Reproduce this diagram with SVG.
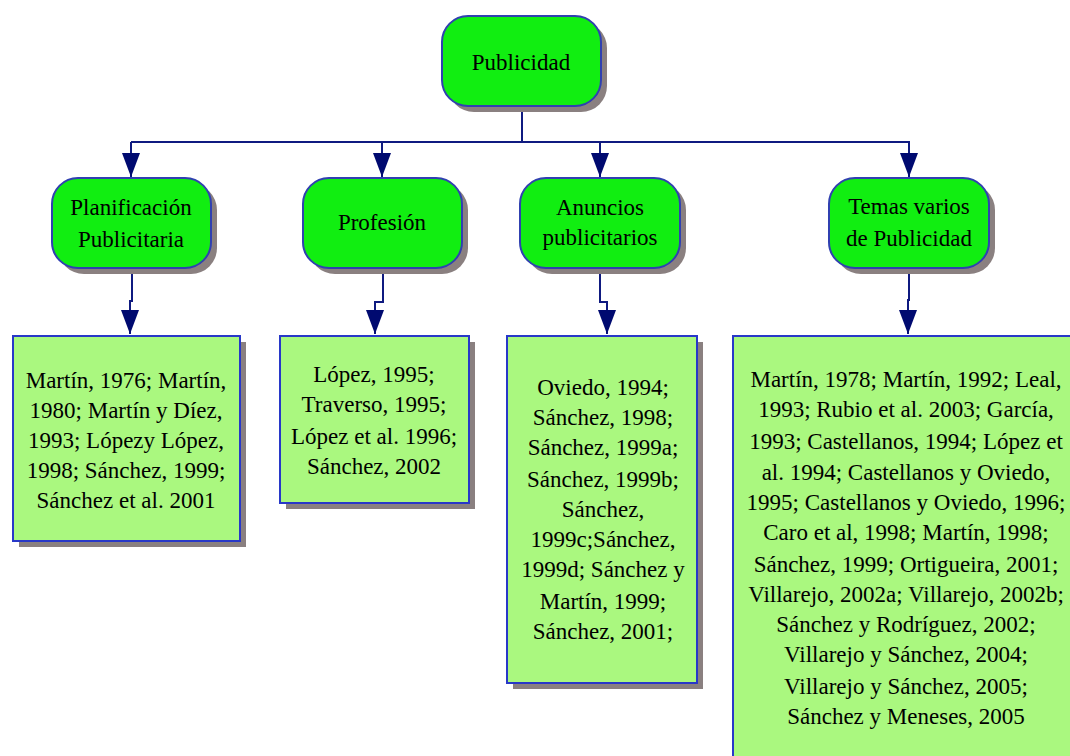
<svg xmlns="http://www.w3.org/2000/svg" width="1070" height="756" viewBox="0 0 1070 756">
<defs>
<style>
.sh{fill:#8a8080}
.n2{fill:#11ee11;stroke:#3040b0;stroke-width:2}
.n3{fill:#aaf87f;stroke:#2838c8;stroke-width:2}
.t{font-size:23px;fill:#000;text-anchor:middle}
.c{fill:none;stroke:#0f1a80;stroke-width:2}
</style>
<marker id="ah" markerUnits="userSpaceOnUse" markerWidth="26" markerHeight="20" refX="25" refY="10" orient="auto" viewBox="0 0 26 20">
<path d="M1,1 L25,10 L1,19 Z" fill="#000a70"/>
</marker>
</defs>
<rect width="1070" height="756" fill="#fff"/>
<g id="connectors">
<path class="c" d="M522,106 V142"/>
<path class="c" d="M131,142 H910"/>
<path class="c" d="M131,142 V177" marker-end="url(#ah)"/>
<path class="c" d="M382,142 V177" marker-end="url(#ah)"/>
<path class="c" d="M600,142 V177" marker-end="url(#ah)"/>
<path class="c" d="M909,142 V177" marker-end="url(#ah)"/>
<path class="c" d="M132,268 V301 H130 V334" marker-end="url(#ah)"/>
<path class="c" d="M383,268 V302 H375 V334" marker-end="url(#ah)"/>
<path class="c" d="M600,268 V302 H607 V334" marker-end="url(#ah)"/>
<path class="c" d="M909,268 V300 H908 V334" marker-end="url(#ah)"/>
</g>
<g font-family="'Liberation Serif', 'Times New Roman', 'DejaVu Serif', serif">
<g id="publicidad">
<rect class="sh" x="448" y="22" width="159" height="90" rx="26"/>
<rect class="n2" x="442" y="16" width="159" height="90" rx="26"/>
<text class="t" x="521" y="70">Publicidad</text>
</g>
<g id="planificacion">
<rect class="sh" x="58" y="184" width="159" height="90" rx="26"/>
<rect class="n2" x="52" y="178" width="159" height="90" rx="26"/>
<text class="t" x="131" y="215">Planificación</text>
<text class="t" x="131" y="247">Publicitaria</text>
</g>
<g id="profesion">
<rect class="sh" x="309" y="184" width="159" height="90" rx="26"/>
<rect class="n2" x="303" y="178" width="159" height="90" rx="26"/>
<text class="t" x="382" y="230">Profesión</text>
</g>
<g id="anuncios">
<rect class="sh" x="526" y="184" width="160" height="90" rx="26"/>
<rect class="n2" x="520" y="178" width="160" height="90" rx="26"/>
<text class="t" x="600" y="215">Anuncios</text>
<text class="t" x="600" y="245">publicitarios</text>
</g>
<g id="temas">
<rect class="sh" x="835" y="184" width="160" height="90" rx="26"/>
<rect class="n2" x="829" y="178" width="160" height="90" rx="26"/>
<text class="t" x="909" y="214">Temas varios</text>
<text class="t" x="909" y="246">de Publicidad</text>
</g>
<g id="refs-planificacion">
<rect class="sh" x="19" y="342" width="227" height="205"/>
<rect class="n3" x="13" y="336" width="227" height="205"/>
<text class="t" x="126" y="388">Martín, 1976; Martín,</text>
<text class="t" x="126" y="418">1980; Martín y Díez,</text>
<text class="t" x="126" y="448">1993; Lópezy López,</text>
<text class="t" x="126" y="478">1998; Sánchez, 1999;</text>
<text class="t" x="126" y="508">Sánchez et al. 2001</text>
</g>
<g id="refs-profesion">
<rect class="sh" x="286" y="342" width="189" height="167"/>
<rect class="n3" x="280" y="336" width="189" height="167"/>
<text class="t" x="374" y="382">López, 1995;</text>
<text class="t" x="374" y="412">Traverso, 1995;</text>
<text class="t" x="374" y="444">López et al. 1996;</text>
<text class="t" x="374" y="474">Sánchez, 2002</text>
</g>
<g id="refs-anuncios">
<rect class="sh" x="513" y="342" width="190" height="347"/>
<rect class="n3" x="507" y="336" width="190" height="347"/>
<text class="t" x="603" y="395">Oviedo, 1994;</text>
<text class="t" x="603" y="425">Sánchez, 1998;</text>
<text class="t" x="603" y="455">Sánchez, 1999a;</text>
<text class="t" x="603" y="487">Sánchez, 1999b;</text>
<text class="t" x="603" y="517">Sánchez,</text>
<text class="t" x="603" y="547">1999c;Sánchez,</text>
<text class="t" x="603" y="577">1999d; Sánchez y</text>
<text class="t" x="603" y="609">Martín, 1999;</text>
<text class="t" x="603" y="639">Sánchez, 2001;</text>
</g>
<g id="refs-temas">
<rect class="sh" x="739" y="342" width="340" height="430"/>
<rect class="n3" x="733" y="336" width="340" height="430"/>
<text class="t" x="906" y="387">Martín, 1978; Martín, 1992; Leal,</text>
<text class="t" x="906" y="417">1993; Rubio et al. 2003; García,</text>
<text class="t" x="906" y="449">1993; Castellanos, 1994; López et</text>
<text class="t" x="906" y="480">al. 1994;  Castellanos y Oviedo,</text>
<text class="t" x="906" y="510">1995; Castellanos y Oviedo, 1996;</text>
<text class="t" x="906" y="540">Caro et al, 1998; Martín, 1998;</text>
<text class="t" x="906" y="572">Sánchez, 1999; Ortigueira, 2001;</text>
<text class="t" x="906" y="602">Villarejo, 2002a; Villarejo, 2002b;</text>
<text class="t" x="906" y="632">Sánchez y Rodríguez, 2002;</text>
<text class="t" x="906" y="662">Villarejo y Sánchez, 2004;</text>
<text class="t" x="906" y="694">Villarejo y Sánchez, 2005;</text>
<text class="t" x="906" y="724">Sánchez y Meneses, 2005</text>
</g>
</g>
</svg>
